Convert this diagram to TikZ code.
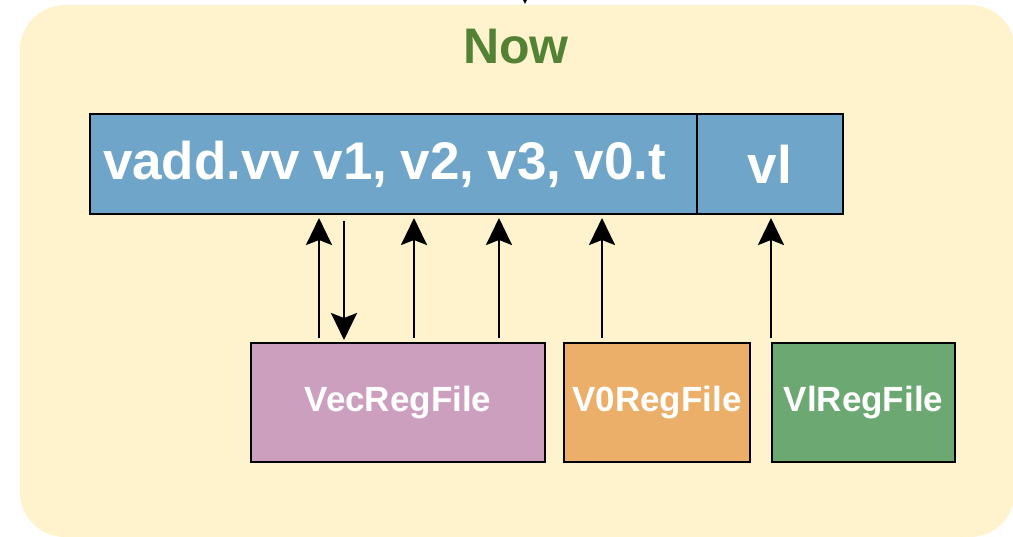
\documentclass[tikz,border=0pt]{standalone}
\usepackage{fontspec}
\setmainfont{Liberation Sans}
\usetikzlibrary{arrows.meta}

\definecolor{panelfill}{HTML}{FFF3CD}
\definecolor{titlegreen}{HTML}{548235}
\definecolor{instblue}{HTML}{6EA5C9}
\definecolor{vecpink}{HTML}{CC9FBE}
\definecolor{vzorange}{HTML}{EBAF6A}
\definecolor{vlgreen}{HTML}{6CA872}

\begin{document}
\begin{tikzpicture}[x=1pt,y=-1pt,
  regbox/.style={draw=black, line width=2.6pt, inner sep=0pt, outer sep=0pt,
    anchor=north west, text=white, minimum height=119pt,
    font=\bfseries\fontsize{35}{40}\selectfont},
  fieldbox/.style={draw=black, line width=2.6pt, inner sep=0pt, outer sep=0pt,
    anchor=north west, fill=instblue, text=white, minimum height=100pt,
    font=\bfseries\fontsize{53}{60}\selectfont},
  arr/.style={line width=2.6pt, draw=black,
    -{Stealth[length=27pt,width=26pt,inset=5pt]}},
]
\useasboundingbox (0,0) rectangle (1013,536);
\clip (0,0) rectangle (1013,536);

% background panel
\node[fill=panelfill, rounded corners=45pt, inner sep=0pt, outer sep=0pt,
  anchor=north west, minimum width=995pt, minimum height=532pt] (frame) at (20,5) {};

% incoming connector from above the panel
\coordinate (src) at (525,-60);
\draw[arr, shorten >=1pt] (src) -- (frame.north -| 525,0);

% title
\node[anchor=base, text=titlegreen, inner sep=0pt,
  font=\bfseries\fontsize{50}{56}\selectfont] (title) at (516,63) {Now};

% instruction fields
\node[fieldbox, minimum width=607pt, text width=581pt, align=left] (instr)
  at (90,114) {\frenchspacing\spaceskip=13.3pt\relax vadd.vv v1, v2, v3, v0.t};
\node[fieldbox, minimum width=146pt] (vlf) at (697,114) {vl};

% register files
\node[regbox, fill=vecpink, minimum width=294pt] (vec) at (251,343) {VecRegFile};
\node[regbox, fill=vzorange, minimum width=186pt] (vzero) at (564,343) {V0RegFile};
\node[regbox, fill=vlgreen, minimum width=183pt] (vlreg) at (772,343) {VlRegFile};

% operand reads and the result write-back
\draw[arr, shorten <=5pt, shorten >=4pt] (vec.north -| 319,0) -- (instr.south -| 319,0);
\draw[arr, shorten <=7pt, shorten >=3pt] (instr.south -| 344,0) -- (vec.north -| 344,0);
\draw[arr, shorten <=5pt, shorten >=4pt] (vec.north -| 414,0) -- (instr.south -| 414,0);
\draw[arr, shorten <=5pt, shorten >=4pt] (vec.north -| 499,0) -- (instr.south -| 499,0);
\draw[arr, shorten <=5pt, shorten >=4pt] (vzero.north -| 602,0) -- (instr.south -| 602,0);
\draw[arr, shorten <=5pt, shorten >=4pt] (vlreg.north -| 771,0) -- (vlf.south -| 771,0);
\end{tikzpicture}
\end{document}
